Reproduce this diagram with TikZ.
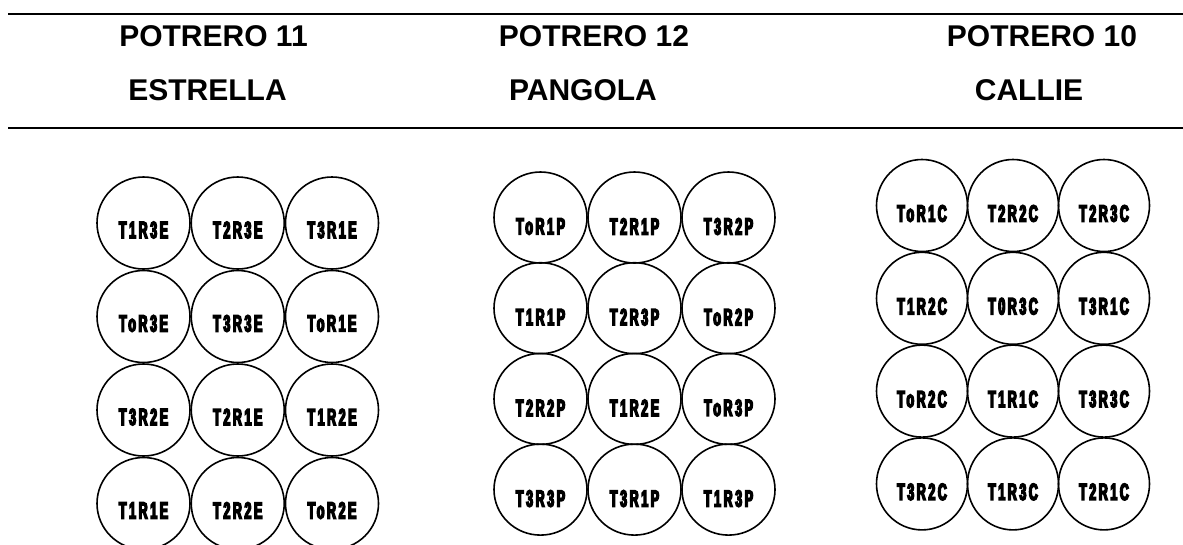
\documentclass[tikz,border=0pt]{standalone}
\usepackage{fontspec}
\setmainfont{Liberation Sans}
\newfontfamily\lblfont{Liberation Sans}[FakeStretch=0.53,FakeBold=6,LetterSpace=11]
\usetikzlibrary{shapes.geometric}
\tikzset{
  rule/.style={line width=2.6pt},
  head/.style={anchor=base, inner sep=0pt, font=\bfseries\fontsize{30}{36}\selectfont},
  cell/.style={draw, line width=1.6pt, shape=ellipse, inner sep=0pt},
  lbl/.style={inner sep=0pt, font=\lblfont\bfseries\fontsize{23.5}{26}\selectfont}
}
\begin{document}
\begin{tikzpicture}[x=1pt,y=-1pt]
\useasboundingbox (0,0) rectangle (1183,544);
\clip (0,0) rectangle (1183,544);
% header rules
\coordinate (t1) at (8,14);   \coordinate (t2) at (1183,14);
\coordinate (b1) at (8,128);  \coordinate (b2) at (1183,128);
\draw[rule] (t1) -- (t2);
\draw[rule] (b1) -- (b2);
% headings
\node[head] (h11) at (213.5,46.7) {POTRERO 11};
\node[head] (n11) at (207.5,100) {ESTRELLA};
\node[head] (h12) at (594,46.7) {POTRERO 12};
\node[head] (n12) at (583,100) {PANGOLA};
\node[head] (h10) at (1042,46.7) {POTRERO 10};
\node[head] (n10) at (1029,100) {CALLIE};
% ESTRELLA grid
\foreach \r/\row in {1/{T1R3E,T2R3E,T3R1E},2/{ToR3E,T3R3E,ToR1E},3/{T3R2E,T2R1E,T1R2E},4/{T1R1E,T2R2E,ToR2E}}{
  \foreach \t [count=\c] in \row {
    \node[cell, minimum width=93pt, minimum height=92pt] (e\r\c) at ({143.5+94.25*(\c-1)},{223+93.5*(\r-1)}) {};
    \node[lbl] (le\r\c) at ([yshift=-7pt]e\r\c.center) {\t};
  }
}
% PANGOLA grid
\foreach \r/\row in {1/{ToR1P,T2R1P,T3R2P},2/{T1R1P,T2R3P,ToR2P},3/{T2R2P,T1R2E,ToR3P},4/{T3R3P,T3R1P,T1R3P}}{
  \foreach \t [count=\c] in \row {
    \node[cell, minimum width=93pt, minimum height=91pt] (p\r\c) at ({540.5+94*(\c-1)},{217.5+90.7*(\r-1)}) {};
    \node[lbl] (lp\r\c) at ([yshift=-9pt]p\r\c.center) {\t};
  }
}
% CALLIE grid
\foreach \r/\row in {1/{ToR1C,T2R2C,T2R3C},2/{T1R2C,T0R3C,T3R1C},3/{ToR2C,T1R1C,T3R3C},4/{T3R2C,T1R3C,T2R1C}}{
  \foreach \t [count=\c] in \row {
    \node[cell, minimum width=91pt, minimum height=92pt] (c\r\c) at ({922+91*(\c-1)},{205.5+92.8*(\r-1)}) {};
    \node[lbl] (lc\r\c) at ([yshift=-8pt]c\r\c.center) {\t};
  }
}
\end{tikzpicture}
\end{document}
